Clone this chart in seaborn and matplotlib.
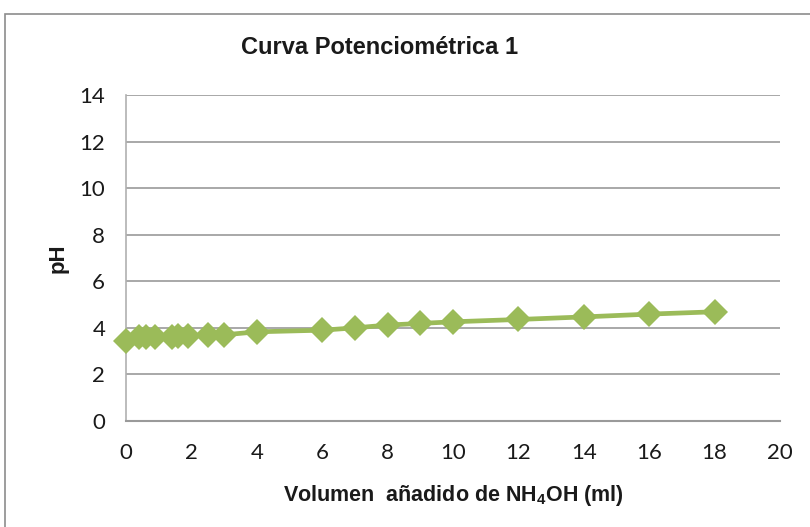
import matplotlib
matplotlib.use("Agg")
import matplotlib.pyplot as plt
from matplotlib import font_manager
from matplotlib.patches import Rectangle
import seaborn as sns
import pandas as pd

# Titration data: volume of NH4OH added (ml) and measured pH
volumen = [0, 0.4, 0.6, 0.9, 1.4, 1.6, 1.9, 2.5, 3, 4, 6, 7, 8, 9, 10, 12, 14, 16, 18]
ph = [3.45, 3.6, 3.6, 3.6, 3.62, 3.63, 3.65, 3.68, 3.7, 3.83, 3.9, 4.0, 4.12, 4.19, 4.26, 4.36, 4.47, 4.59, 4.69]

x_ticks = list(range(0, 21, 2))
y_ticks = list(range(0, 15, 2))

titulo = "Curva Potenciométrica 1"
etiqueta_x = "Volumen  añadido de NH$_4$OH (ml)"
etiqueta_y = "pH"

installed = {f.name for f in font_manager.fontManager.ttflist}
bold_font = "Liberation Sans Narrow" if "Liberation Sans Narrow" in installed else "Liberation Sans"
tick_font = "Lato"

sns.set_theme(style="white")
plt.rcParams["font.family"] = [tick_font, "DejaVu Sans"]
plt.rcParams["mathtext.fontset"] = "custom"
plt.rcParams["mathtext.rm"] = f"{bold_font}:bold"
plt.rcParams["mathtext.default"] = "rm"

df = pd.DataFrame({"volumen": volumen, "ph": ph})

fig = plt.figure(figsize=(8.1, 5.27), dpi=100)
ax = fig.add_axes([126 / 810, 1 - 421 / 527, (780 - 126) / 810, (421 - 95) / 527])

# chart frame
fig.patches.append(Rectangle((5 / 810, -0.1), 1.2, 1 - 14 / 527 + 0.1, transform=fig.transFigure,
                             fill=False, edgecolor="#8c8c8c", linewidth=1.2, zorder=0))

green = "#9BBB59"
sns.lineplot(data=df, x="volumen", y="ph", ax=ax, color=green, linewidth=3.4,
             marker="D", markersize=13, markeredgecolor=green, markeredgewidth=0,
             clip_on=False, zorder=3)

ax.set_xlim(0, 20)
ax.set_ylim(0, 14)
ax.set_xticks(x_ticks)
ax.set_yticks(y_ticks)
ax.set_xticklabels([str(v) for v in x_ticks], fontsize=16, color="#1a1a1a")
ax.set_yticklabels([str(v) for v in y_ticks], fontsize=16, color="#1a1a1a")
ax.tick_params(axis="x", length=0, pad=16)
ax.tick_params(axis="y", length=0, pad=15)

ax.grid(axis="y", color="#9a9a9a", linewidth=1.2)
ax.grid(axis="x", visible=False)
for side in ["top", "right"]:
    ax.spines[side].set_visible(False)
ax.spines["left"].set_color("#b0b0b0")
ax.spines["left"].set_linewidth(1.2)
ax.spines["bottom"].set_color("#9a9a9a")
ax.spines["bottom"].set_linewidth(1.5)

ax.set_xlabel(etiqueta_x, fontsize=15.5, fontweight="bold", family=bold_font, labelpad=14, color="#1a1a1a")
ax.set_ylabel(etiqueta_y, fontsize=16, fontweight="bold", family=bold_font, labelpad=8, color="#1a1a1a")

fig.text(380 / 810, 1 - 47 / 527, titulo, ha="center", va="center", fontsize=17,
         fontweight="bold", family=bold_font, color="#1a1a1a")

fig.savefig("out.png", dpi=100)
